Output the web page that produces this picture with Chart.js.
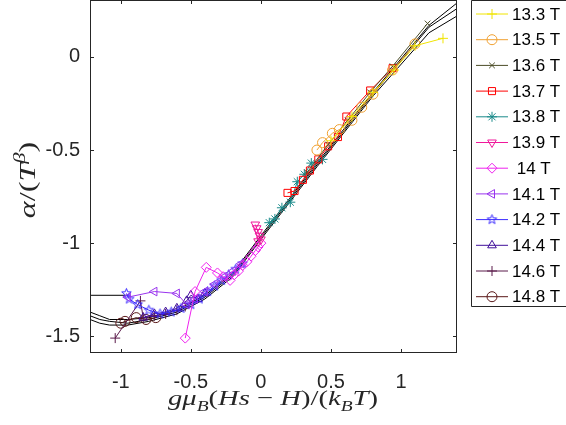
<!DOCTYPE html>
<html>
<head>
<meta charset="utf-8">
<script src="https://cdn.jsdelivr.net/npm/chart.js@4.4.1/dist/chart.umd.min.js"></script>
<style>
  body { margin: 0; background: #fff; overflow: hidden; }
</style>
</head>
<body>
<canvas id="canvas" width="566" height="425"></canvas>
<script>
const t133 = [[0.5,-0.45],[0.65,-0.32],[0.8,-0.19],[0.95,-0.07],[1.1,0.06],[1.3,0.1]];
const t135 = [[0.4,-0.5],[0.44,-0.46],[0.51,-0.41],[0.56,-0.39],[0.65,-0.34],[0.72,-0.27],[0.8,-0.2],[0.94,-0.07],[1.1,0.07]];
const t136 = [[0.33,-0.62],[0.48,-0.47],[0.62,-0.34],[0.78,-0.19],[0.94,-0.05],[1.19,0.18]];
const t137 = [[0.19,-0.73],[0.24,-0.72],[0.3,-0.66],[0.35,-0.61],[0.41,-0.55],[0.48,-0.48],[0.55,-0.43],[0.61,-0.32],[0.78,-0.18],[0.94,-0.06]];
const t138 = [[0.06,-0.89],[0.1,-0.87],[0.15,-0.81],[0.21,-0.78],[0.26,-0.67],[0.31,-0.63],[0.36,-0.57],[0.44,-0.55]];
const t139 = [[-0.04,-0.9],[-0.03,-0.92],[-0.02,-0.94],[-0.01,-0.96],[0.0,-0.98],[-0.02,-0.99]];
const t140 = [[-0.54,-1.51],[-0.47,-1.26],[-0.39,-1.13],[-0.31,-1.16],[-0.27,-1.18],[-0.22,-1.2],[-0.19,-1.17],[-0.16,-1.15],[-0.13,-1.12],[-0.1,-1.1],[-0.07,-1.07],[-0.04,-1.04],[-0.02,-1.02],[0.0,-1.0]];
const t141 = [[-0.95,-1.29],[-0.76,-1.26],[-0.6,-1.27],[-0.53,-1.33],[-0.47,-1.3],[-0.4,-1.26],[-0.33,-1.22],[-0.26,-1.18],[-0.2,-1.15],[-0.14,-1.11]];
const t142 = [[-0.96,-1.27],[-0.94,-1.3],[-0.88,-1.33],[-0.8,-1.36],[-0.72,-1.38],[-0.64,-1.37],[-0.57,-1.35],[-0.5,-1.33],[-0.44,-1.3],[-0.38,-1.26],[-0.33,-1.23],[-0.28,-1.2],[-0.23,-1.17],[-0.18,-1.14],[-0.13,-1.11]];
const t144 = [[-0.84,-1.4],[-0.76,-1.38],[-0.68,-1.37],[-0.6,-1.35],[-0.53,-1.31],[-0.5,-1.28],[-0.45,-1.3],[-0.4,-1.27]];
const t146 = [[-1.04,-1.51],[-0.86,-1.31],[-0.84,-1.4],[-0.76,-1.39],[-0.68,-1.38],[-0.6,-1.36],[-0.54,-1.34]];
const t148 = [[-1.0,-1.43],[-0.97,-1.42],[-0.89,-1.4],[-0.82,-1.41],[-0.75,-1.4]];

// black model curves (not in legend)
const fitA = [[-1.22,-1.28],[-0.96,-1.28]];
const fitB = [[-1.22,-1.37],[-1.15,-1.39],[-1.08,-1.41],[-0.95,-1.41],[-0.8,-1.4],[-0.6,-1.36],[-0.4,-1.28],[-0.2,-1.16],[0,-0.96],[0.4,-0.57],[0.8,-0.19],[1.2,0.17],[1.4,0.29]];
const fitC = [[-1.22,-1.39],[-1.15,-1.41],[-1.08,-1.42],[-0.95,-1.43],[-0.8,-1.41],[-0.6,-1.37],[-0.4,-1.29],[-0.2,-1.17],[0,-0.97],[0.4,-0.58],[0.8,-0.2],[1.2,0.16],[1.4,0.26]];
const fitD = [[-1.22,-1.41],[-1.15,-1.43],[-1.08,-1.44],[-0.95,-1.44],[-0.8,-1.42],[-0.6,-1.38],[-0.4,-1.3],[-0.2,-1.18],[0,-0.98],[0.4,-0.59],[0.8,-0.21],[1.2,0.13],[1.4,0.22]];

const fieldLabels = ['13.3 T','13.5 T','13.6 T','13.7 T','13.8 T','13.9 T',' 14 T','14.1 T','14.2 T','14.4 T','14.6 T','14.8 T'];
const xTicks = [-1, -0.5, 0, 0.5, 1];
const yTicks = [-1.5, -1, -0.5, 0];

const xTitle = [{t:'g',it:1},{t:'μ',it:1},{t:'B',it:1,sub:1},{t:'('},{t:'Hs',it:1},{t:' − '},{t:'H',it:1},{t:')/('},{t:'k',it:1},{t:'B',it:1,sub:1},{t:'T',it:1},{t:')'}];
const yTitle = [{t:'α',it:1},{t:'/('},{t:'T',it:1},{t:'β',it:1,sup:1},{t:')'}];

// hollow pentagram marker for 14.2 T
function pentagram(color, r) {
    const c = document.createElement('canvas');
    const s = Math.ceil(r * 2 + 3);
    c.width = c.height = s;
    const g = c.getContext('2d');
    g.strokeStyle = color;
    g.lineWidth = 1;
    g.beginPath();
    for (let i = 0; i < 10; i++) {
        const a = -Math.PI / 2 + i * Math.PI / 5;
        const rr = i % 2 ? r * 0.42 : r;
        g.lineTo(s / 2 + rr * Math.cos(a), s / 2 + rr * Math.sin(a));
    }
    g.closePath();
    g.stroke();
    return c;
}

const looks = [
    {pts: t133, color: '#f0e400', style: 'cross', r: 5},
    {pts: t135, color: '#f0a030', style: 'circle', r: 5},
    {pts: t136, color: '#4a4c26', style: 'crossRot', r: 4},
    {pts: t137, color: '#ff0000', style: 'rect', r: 5},
    {pts: t138, color: '#1a8a8a', style: 'star', r: 5},
    {pts: t139, color: '#f0189b', style: 'triangle', r: 5, rot: 180},
    {pts: t140, color: '#ee22ee', style: 'rectRot', r: 5},
    {pts: t141, color: '#9933ee', style: 'triangle', r: 5, rot: -90},
    {pts: t142, color: '#3a2aff', style: pentagram('#3a2aff', 5), r: 5},
    {pts: t144, color: '#40109a', style: 'triangle', r: 5},
    {pts: t146, color: '#5a1a4a', style: 'cross', r: 5},
    {pts: t148, color: '#5a1818', style: 'circle', r: 5}
];

const datasets = looks.map(function(s, i) {
    return {
        label: fieldLabels[i],
        data: s.pts.map(p => ({x: p[0], y: p[1]})),
        showLine: true,
        borderColor: s.color,
        borderWidth: 1,
        backgroundColor: 'rgba(0,0,0,0)',
        pointBorderColor: s.color,
        pointBackgroundColor: 'rgba(0,0,0,0)',
        pointStyle: s.style,
        pointRadius: s.r,
        pointRotation: s.rot || 0,
        pointBorderWidth: 1
    };
});
[fitA, fitB, fitC, fitD].forEach(function(f) {
    datasets.push({
        data: f.map(p => ({x: p[0], y: p[1]})),
        showLine: true,
        borderColor: '#000',
        borderWidth: 1,
        pointRadius: 0,
        order: 1
    });
});

const ink = '#262626';

// math-style title: italic serif pieces with sub/superscripts, stretched a bit along the text
function drawRich(ctx, parts, size, stretch) {
    const fontOf = p => (p.it ? 'italic ' : '') + ((p.sub || p.sup) ? Math.round(size * 0.7) : size) + 'px "Liberation Serif"';
    let w = 0;
    parts.forEach(p => { ctx.font = fontOf(p); p.w = ctx.measureText(p.t).width; w += p.w; });
    ctx.scale(stretch, 1);
    let x = -w / 2;
    parts.forEach(p => {
        ctx.font = fontOf(p);
        ctx.fillText(p.t, x, p.sub ? size * 0.25 : p.sup ? -size * 0.42 : 0);
        x += p.w;
    });
}

const frame = {
    id: 'frame',
    afterDatasetsDraw(chart) {
        const {ctx, chartArea: a, scales} = chart;
        ctx.save();
        ctx.strokeStyle = ink;
        ctx.lineWidth = 1;
        ctx.strokeRect(a.left + 0.5, a.top + 0.5, a.right - a.left - 1, a.bottom - a.top - 1);
        ctx.beginPath();
        xTicks.forEach(v => {
            const px = Math.round(scales.x.getPixelForValue(v)) + 0.5;
            ctx.moveTo(px, a.bottom); ctx.lineTo(px, a.bottom - 4);
            ctx.moveTo(px, a.top); ctx.lineTo(px, a.top + 4);
        });
        yTicks.forEach(v => {
            const py = Math.round(scales.y.getPixelForValue(v)) + 0.5;
            ctx.moveTo(a.left, py); ctx.lineTo(a.left + 4, py);
            ctx.moveTo(a.right, py); ctx.lineTo(a.right - 4, py);
        });
        ctx.stroke();
        ctx.restore();
    },
    afterDraw(chart) {
        const ctx = chart.ctx;
        ctx.save();
        ctx.fillStyle = ink;
        ctx.textBaseline = 'alphabetic';
        // x title
        ctx.save();
        ctx.translate(273, 405);
        drawRich(ctx, xTitle, 22, 1.3);
        ctx.restore();
        // y title
        ctx.save();
        ctx.translate(35, 180);
        ctx.rotate(-Math.PI / 2);
        drawRich(ctx, yTitle, 23, 1.4);
        ctx.restore();

        // legend box, open on the right where the figure was cut
        const bx = 471.5, top = 0.5, bottom = 306.5, step = 25.7;
        const items = chart.data.datasets.filter(d => d.label);
        ctx.strokeStyle = ink;
        ctx.lineWidth = 1;
        ctx.beginPath();
        ctx.moveTo(566, top); ctx.lineTo(bx, top); ctx.lineTo(bx, bottom); ctx.lineTo(566, bottom);
        ctx.stroke();
        ctx.font = '17px "Liberation Sans"';
        ctx.textBaseline = 'middle';
        items.forEach((d, i) => {
            const cy = 14 + i * step;
            ctx.strokeStyle = d.borderColor;
            ctx.beginPath();
            ctx.moveTo(476, cy); ctx.lineTo(508, cy);
            ctx.stroke();
            ctx.fillStyle = 'rgba(0,0,0,0)';
            Chart.helpers.drawPoint(ctx, {pointStyle: d.pointStyle, rotation: d.pointRotation, radius: d.pointRadius, borderWidth: 1}, 492, cy);
            ctx.fillStyle = '#000';
            ctx.fillText(d.label, 512, cy + 1);
        });
        ctx.restore();
    }
};

const ctx = document.getElementById('canvas').getContext('2d');
const myChart = new Chart(ctx, {
    type: 'scatter',
    data: { datasets: datasets },
    options: {
        responsive: false,
        animation: false,
        elements: { line: { tension: 0 } },
        layout: { autoPadding: false, padding: { left: 0, right: 109, top: 0, bottom: 0 } },
        scales: {
            x: {
                type: 'linear',
                min: -1.22,
                max: 1.4,
                afterFit: s => { s.height = 72; s.paddingLeft = 0; s.paddingRight = 0; },
                afterBuildTicks: s => { s.ticks = xTicks.map(v => ({value: v})); },
                grid: { display: false, drawTicks: false },
                border: { display: false },
                ticks: { color: ink, padding: 17, maxRotation: 0, callback: v => String(v), font: { family: 'Liberation Sans', size: 20 } }
            },
            y: {
                type: 'linear',
                min: -1.59,
                max: 0.306,
                afterFit: s => { s.width = 90; s.paddingTop = 0; s.paddingBottom = 0; },
                afterBuildTicks: s => { s.ticks = yTicks.map(v => ({value: v})); },
                grid: { display: false, drawTicks: false },
                border: { display: false },
                ticks: { color: ink, padding: 10, callback: v => String(v), font: { family: 'Liberation Sans', size: 20 } }
            }
        },
        plugins: {
            legend: { display: false },
            tooltip: { enabled: false }
        }
    },
    plugins: [frame]
});
</script>
</body>
</html>
